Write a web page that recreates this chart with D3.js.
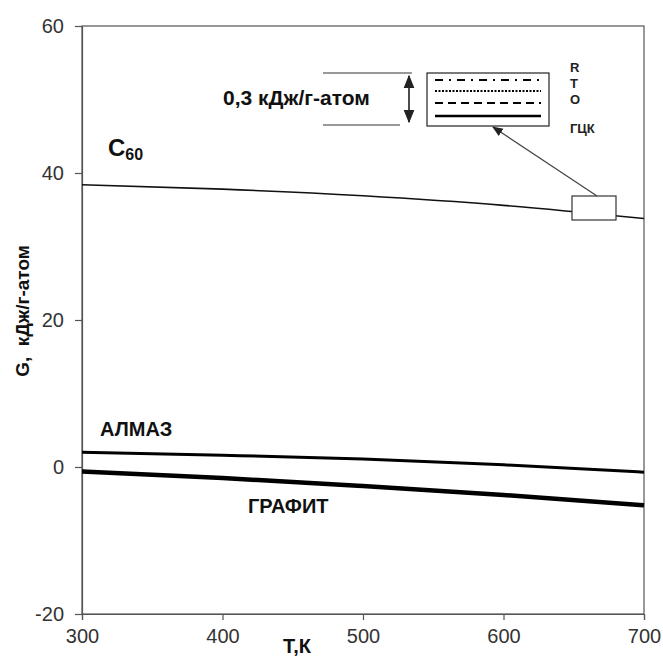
<!DOCTYPE html>
<html><head><meta charset="utf-8">
<script src="https://cdn.jsdelivr.net/npm/d3@7"></script>
<style>body{margin:0;background:#fff}svg{display:block}text{font-family:"Liberation Sans",Arial,sans-serif}</style>
</head><body>
<svg id="c" width="663" height="659"></svg>
<script>
const temps = [300, 400, 500, 600, 700];
const gC60 = [38.4, 37.8, 36.9, 35.6, 33.8];
const gAlmaz = [2.0, 1.6, 1.1, 0.3, -0.7];
const gGrafit = [-0.6, -1.5, -2.6, -3.8, -5.2];
const xTicks = [300, 400, 500, 600, 700];
const yTicks = [-20, 0, 20, 40, 60];
const legendStyles = ["R", "T", "O", "ГЦК"];

const svg = d3.select("#c");
const x = d3.scaleLinear().domain([300, 700]).range([82, 644]);
const y = d3.scaleLinear().domain([-20, 60]).range([614, 26]);
const [X0, X1] = x.range(), [Y1, Y0] = y.range();

// frame
svg.append("rect").attr("x", X0).attr("y", Y0).attr("width", X1 - X0).attr("height", Y1 - Y0)
  .attr("fill", "none").attr("stroke", "#555").attr("stroke-width", 1.2);

const xa = svg.append("g").attr("transform", `translate(0,${Y1})`)
  .call(d3.axisBottom(x).tickValues(xTicks).tickSize(6).tickPadding(9).tickFormat(d3.format("d")));
const ya = svg.append("g").attr("transform", `translate(${X0},0)`)
  .call(d3.axisLeft(y).tickValues(yTicks).tickSize(7).tickPadding(11).tickFormat(d => String(d)));
[xa, ya].forEach(a => {
  a.select(".domain").attr("stroke", "#555").attr("stroke-width", 1.2);
  a.selectAll(".tick line").attr("stroke", "#555").attr("stroke-width", 1.2);
  a.selectAll(".tick text").attr("font-size", 20).attr("fill", "#333")
    .attr("font-family", '"Liberation Sans",Arial,sans-serif');
});

const line = vals => d3.line().x((d, i) => x(temps[i])).y(d => y(d)).curve(d3.curveMonotoneX)(vals);
svg.append("path").attr("d", line(gC60)).attr("fill", "none").attr("stroke", "#111").attr("stroke-width", 1.6);
svg.append("path").attr("d", line(gAlmaz)).attr("fill", "none").attr("stroke", "#000").attr("stroke-width", 3);
svg.append("path").attr("d", line(gGrafit)).attr("fill", "none").attr("stroke", "#000").attr("stroke-width", 4.5);

// small box on C60 curve
svg.append("rect").attr("x", 572).attr("y", 196).attr("width", 44).attr("height", 24)
  .attr("fill", "#fff").attr("stroke", "#333").attr("stroke-width", 1.2);

// inset legend box
svg.append("defs").append("marker").attr("id", "ah").attr("viewBox", "0 0 10 10")
  .attr("refX", 9).attr("refY", 5).attr("markerWidth", 9).attr("markerHeight", 9).attr("orient", "auto-start-reverse")
  .append("path").attr("d", "M0,1L10,5L0,9Z").attr("fill", "#222");

svg.append("line").attr("x1", 597).attr("y1", 196).attr("x2", 493).attr("y2", 127)
  .attr("stroke", "#444").attr("stroke-width", 1.2).attr("marker-end", "url(#ah)");

svg.append("rect").attr("x", 427).attr("y", 73).attr("width", 122).attr("height", 53)
  .attr("fill", "#fff").attr("stroke", "#222").attr("stroke-width", 1.2);
const dashes = ["8,6,2,6", "2,1.5", "8,5", null];
const lys = [80, 91, 103, 116];
dashes.forEach((da, i) => {
  const l = svg.append("line").attr("x1", 435).attr("x2", 541).attr("y1", lys[i]).attr("y2", lys[i])
    .attr("stroke", "#000").attr("stroke-width", i === 3 ? 2.4 : 2);
  if (da) l.attr("stroke-dasharray", da);
});
const lblY = [72, 88, 104, 133];
legendStyles.forEach((t, i) => {
  svg.append("text").attr("x", 570).attr("y", lblY[i]).attr("font-size", 13).attr("font-weight", "bold")
    .attr("fill", "#222").text(t);
});

// 0,3 scale indicator
svg.append("line").attr("x1", 323).attr("x2", 412).attr("y1", 73).attr("y2", 73).attr("stroke", "#333");
svg.append("line").attr("x1", 323).attr("x2", 400).attr("y1", 125).attr("y2", 125).attr("stroke", "#333");
svg.append("line").attr("x1", 409).attr("x2", 409).attr("y1", 76).attr("y2", 122).attr("stroke", "#111")
  .attr("stroke-width", 1.5).attr("marker-end", "url(#ah)").attr("marker-start", "url(#ah)");
svg.append("text").attr("x", 223).attr("y", 105).attr("font-size", 21).attr("font-weight", "bold")
  .attr("fill", "#111").text("0,3 кДж/г-атом");

// curve labels
const c60 = svg.append("text").attr("x", 108).attr("y", 156).attr("font-size", 24).attr("font-weight", "bold").attr("fill", "#111");
c60.append("tspan").text("C");
c60.append("tspan").attr("font-size", 16).attr("dy", 4).text("60");
svg.append("text").attr("x", 100).attr("y", 436).attr("font-size", 20).attr("font-weight", "bold").attr("fill", "#111").text("АЛМАЗ");
svg.append("text").attr("x", 248).attr("y", 513).attr("font-size", 20).attr("font-weight", "bold").attr("fill", "#111").text("ГРАФИТ");

// axis titles
svg.append("text").attr("x", 297).attr("y", 653).attr("text-anchor", "middle").attr("font-size", 20)
  .attr("font-weight", "bold").attr("fill", "#111").text("Т,К");
svg.append("text").attr("transform", "translate(29,311) rotate(-90)").attr("text-anchor", "middle")
  .attr("font-size", 19).attr("font-weight", "bold").attr("fill", "#111").attr("xml:space", "preserve")
  .text("G,  кДж/г-атом");
</script>
</body></html>
